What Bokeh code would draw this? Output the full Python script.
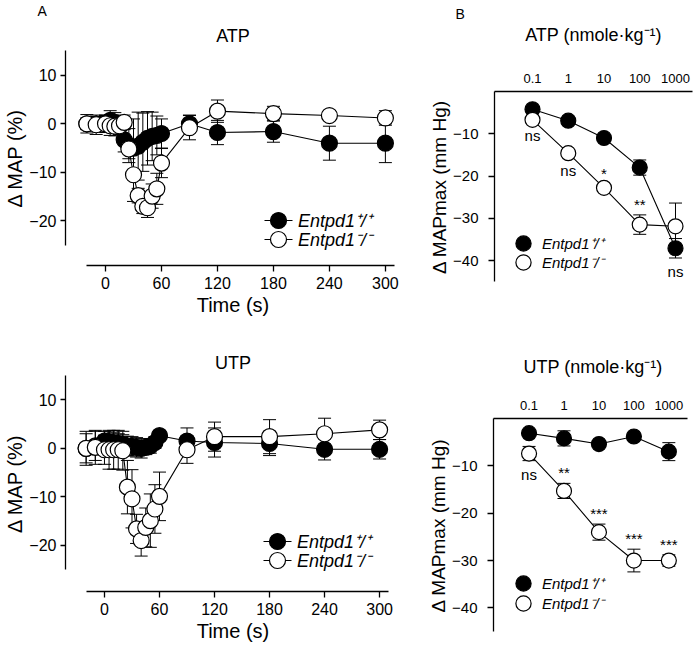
from bokeh.plotting import figure
from bokeh.models import (ColumnDataSource, Whisker, TeeHead, FixedTicker,
                          CustomJSTickFormatter, Title, Legend, LegendItem, Range1d)
from bokeh.layouts import column, row
from bokeh.core.properties import value
from bokeh.embed import file_html
from bokeh.resources import INLINE

FONT = "Liberation Sans"
NAN = float("nan")

# ---------------- data ----------------
time_s = [-20, -10, 0, 5, 10, 15, 20, 25, 30, 35, 40, 45, 50, 55, 60, 90, 120, 180, 240, 300]
time_ticks = [0, 60, 120, 180, 240, 300]

atp_wt = [0.0, 0.0, 0.2, 0.7, 0.3, -0.5, -3.3, -4.5, -5.0, -4.6, -3.8, -3.0, -2.6, -2.4, -2.0, 0.0, -1.8, -1.6, -4.0, -4.0]
atp_wt_sem = [1.2, 1.5, 1.5, 2.0, 2.0, 1.5, 2.5, 3.5, 6.0, 7.0, 6.0, 5.5, 5.0, 4.0, 3.0, 1.8, 2.5, 2.2, 3.5, 4.0]
atp_ko = [0.0, -0.2, 0.0, -0.4, -0.5, -0.4, 0.3, -5.2, -10.5, -14.8, -17.0, -17.3, -14.9, -13.4, -8.1, -0.8, 2.6, 2.1, 1.7, 1.2]
atp_ko_sem = [1.9, 2.0, 1.8, 2.0, 2.0, 1.8, 1.5, 2.0, 5.5, 1.5, 1.5, 2.0, 2.5, 3.2, 3.0, 2.5, 2.3, 1.5, 0.5, 1.5]

utp_wt = [0.0, 0.5, 1.5, 1.4, 1.2, 1.0, 0.8, 0.5, 0.4, 0.2, 0.0, 0.2, 0.5, 1.2, 2.6, 1.5, 1.2, 1.0, -0.2, -0.2]
utp_wt_sem = [3.5, 3.0, 2.0, 2.0, 2.0, 2.0, 2.0, 2.0, 2.0, 2.0, 2.0, 1.5, 1.5, 1.2, 1.0, 2.7, 3.0, 2.5, 2.2, 2.0]
utp_ko = [0.0, 0.2, -0.3, -0.3, -0.3, -0.3, -0.5, -8.0, -10.4, -16.6, -19.0, -16.3, -14.9, -12.5, -9.9, -0.3, 2.4, 2.4, 3.0, 3.8]
utp_ko_sem = [3.0, 3.5, 3.0, 4.0, 4.0, 4.0, 4.0, 5.5, 6.0, 3.0, 3.2, 4.0, 5.5, 5.0, 5.0, 2.8, 3.0, 3.5, 3.2, 2.0]

dose = [0.1, 1, 10, 100, 1000]
atp_dose_wt = [-4.2, -6.9, -11.0, -18.0, -37.1]
atp_dose_wt_sem = [0.6, 0.6, 0.6, 1.8, 2.3]
atp_dose_ko = [-6.7, -14.6, -22.8, -31.5, -31.9]
atp_dose_ko_sem = [0.6, 0.8, 0.8, 2.3, 5.5]
atp_sig = ["ns", "ns", "*", "**", "ns"]
atp_sig_side = ["below", "below", "above", "above", "below"]

utp_dose_wt = [-3.1, -4.2, -5.4, -3.8, -7.0]
utp_dose_wt_sem = [0.5, 1.6, 0.5, 0.5, 1.9]
utp_dose_ko = [-7.4, -15.3, -24.0, -30.0, -30.0]
utp_dose_ko_sem = [1.5, 1.6, 1.7, 2.4, 1.2]
utp_sig = ["ns", "**", "***", "***", "***"]
utp_sig_side = ["below", "above", "above", "above", "above"]

WT_LABEL = "Entpd1\u207a/\u207a"
KO_LABEL = "Entpd1\u207b/\u207b"

MINUS_FMT = CustomJSTickFormatter(code="return tick < 0 ? '\\u2212' + Math.abs(tick) : tick.toString();")


def base_style(p):
    p.xgrid.visible = False
    p.ygrid.visible = False
    p.outline_line_color = None
    p.background_fill_color = "white"
    p.border_fill_color = "white"
    for ax in (p.xaxis[0], p.yaxis[0]):
        ax.axis_line_color = "black"
        ax.axis_line_width = 1.3
        ax.major_tick_line_color = "black"
        ax.major_tick_line_width = 1.3
        ax.minor_tick_line_color = None
        ax.major_tick_in = 0
        ax.major_label_text_color = "black"
        ax.major_label_text_font = FONT
        ax.axis_label_text_font = FONT
        ax.axis_label_text_font_style = "normal"
        ax.axis_label_text_color = "black"


def add_series(p, src, x, key, fill, size):
    w = Whisker(base=x, lower=key + "_lo", upper=key + "_hi", source=src,
                line_color="black", line_width=1,
                upper_head=TeeHead(size=13, line_color="black", line_width=1),
                lower_head=TeeHead(size=13, line_color="black", line_width=1))
    p.add_layout(w)
    ln = p.line(x, key, source=src, line_color="black", line_width=1.1)
    sc = p.scatter(x, key, source=src, size=size, fill_color=fill,
                   line_color="black", line_width=1.2)
    return ln, sc


def make_src(xname, xs, wt, wt_sem, ko, ko_sem):
    return ColumnDataSource(dict(**{xname: xs},
        wt=wt, wt_lo=[v - e for v, e in zip(wt, wt_sem)], wt_hi=[v + e for v, e in zip(wt, wt_sem)],
        ko=ko, ko_lo=[v - e for v, e in zip(ko, ko_sem)], ko_hi=[v + e for v, e in zip(ko, ko_sem)]))


def add_legend_item(p, label, renderers, loc, gw, standoff, fsize):
    lg = Legend(items=[LegendItem(label=label, renderers=renderers)], location=loc,
                glyph_width=gw, glyph_height=gw, label_standoff=standoff, padding=0, margin=0,
                spacing=0, border_line_color=None, background_fill_alpha=0,
                label_text_font=FONT, label_text_font_style="italic",
                label_text_font_size=fsize, label_text_color="black")
    p.add_layout(lg)


def title(text, align, fsize, standoff, offset=0):
    return Title(text=text, align=align, offset=offset, text_font=FONT, text_font_size=fsize,
                 text_font_style="normal", text_color="black", standoff=standoff)


def time_panel(drug, letter, wt, wt_sem, ko, ko_sem, height, xr, yr, borders, leg, title_standoff):
    bl, br, bt, bb = borders
    p = figure(width=408, height=height, x_range=Range1d(*xr), y_range=Range1d(*yr),
               output_backend="svg", toolbar_location=None, title=None, frame_align=False,
               min_border_left=bl, min_border_right=br, min_border_top=bt, min_border_bottom=bb)
    base_style(p)
    xa, ya = p.xaxis[0], p.yaxis[0]
    xa.bounds = (-20, 310)
    xa.ticker = FixedTicker(ticks=time_ticks)
    xa.major_tick_out = 6
    xa.major_label_standoff = 5
    xa.major_label_text_font_size = "16px"
    xa.axis_label = "Time (s)"
    xa.axis_label_text_font_size = "20px"
    xa.axis_label_standoff = 2
    ya.bounds = (-25, 15)
    ya.ticker = FixedTicker(ticks=[-20, -10, 0, 10])
    ya.formatter = MINUS_FMT
    ya.major_tick_out = 5
    ya.major_label_standoff = 4
    ya.major_label_text_font_size = "16px"
    ya.axis_label = "\u0394 MAP (%)"
    ya.axis_label_text_font_size = "20px"
    ya.axis_label_standoff = 0

    src = make_src("t", time_s, wt, wt_sem, ko, ko_sem)
    lw, sw = add_series(p, src, "t", "wt", "black", 16)
    lk, sk = add_series(p, src, "t", "ko", "white", 16)
    # legend keys: short line stub behind the marker (no visible data)
    kw = p.line(x=[NAN, NAN], y=[NAN, NAN], line_color="black", line_width=1.1, line_dash="0 6 28 6")
    kk = p.line(x=[NAN, NAN], y=[NAN, NAN], line_color="black", line_width=1.1, line_dash="0 6 28 6")
    add_legend_item(p, WT_LABEL, [kw, sw], leg[0], 40, -4, "18px")
    add_legend_item(p, KO_LABEL, [kk, sk], leg[1], 40, -4, "18px")

    p.add_layout(title(drug, "center", "18px", title_standoff), "above")
    if letter:
        p.add_layout(title(letter, "left", "14px", 0, -28), "above")
    return p


def dose_panel(drug, letter, wt, wt_sem, ko, ko_sem, sig, sig_side, height, xr, xbounds, yr,
               borders, leg, xstand):
    bl, br, bt, bb = borders
    p = figure(width=285, height=height, x_range=Range1d(*xr), y_range=Range1d(*yr),
               x_axis_type="log", x_axis_location="above", frame_align=False,
               output_backend="svg", toolbar_location=None, title=None,
               min_border_left=bl, min_border_right=br, min_border_top=bt, min_border_bottom=bb)
    base_style(p)
    xa, ya = p.xaxis[0], p.yaxis[0]
    xa.bounds = xbounds
    xa.ticker = FixedTicker(ticks=dose)
    xa.formatter = CustomJSTickFormatter(code="return tick.toString();")
    xa.major_tick_out = 0
    xa.major_label_standoff = xstand[0]
    xa.major_label_text_font_size = "13px"
    xa.axis_label = drug + " (nmole\u00b7kg\u207b\u00b9)"
    xa.axis_label_text_font_size = "18px"
    xa.axis_label_standoff = xstand[1]
    ya.bounds = (-45, 0)
    ya.ticker = FixedTicker(ticks=[-40, -30, -20, -10])
    ya.formatter = MINUS_FMT
    ya.major_tick_out = 6
    ya.major_label_standoff = 10
    ya.major_label_text_font_size = "15px"
    ya.axis_label = "\u0394 MAPmax (mm Hg)"
    ya.axis_label_text_font_size = "19px"
    ya.axis_label_standoff = 0

    src = make_src("d", dose, wt, wt_sem, ko, ko_sem)
    lw, sw = add_series(p, src, "d", "wt", "black", 15)
    lk, sk = add_series(p, src, "d", "ko", "white", 15)
    add_legend_item(p, WT_LABEL, [sw], leg[0], 38, -5, "15px")
    add_legend_item(p, KO_LABEL, [sk], leg[1], 38, -5, "15px")

    below = [i for i, s in enumerate(sig_side) if s == "below"]
    above = [i for i, s in enumerate(sig_side) if s == "above"]
    bsrc = ColumnDataSource(dict(d=[dose[i] for i in below],
                                 y=[min(wt[i] - wt_sem[i], ko[i] - ko_sem[i]) for i in below],
                                 s=[sig[i] for i in below]))
    asrc = ColumnDataSource(dict(d=[dose[i] for i in above],
                                 y=[ko[i] + ko_sem[i] for i in above],
                                 s=[sig[i] for i in above]))
    p.text("d", "y", text="s", source=bsrc, text_font=value(FONT), text_font_size="15px",
           text_align="center", text_baseline="top", y_offset=5, text_color="black")
    p.text("d", "y", text="s", source=asrc, text_font=value(FONT), text_font_size="15px",
           text_align="center", text_baseline="bottom", y_offset=-2, text_color="black")

    if letter:
        p.add_layout(title(letter, "left", "14px", 0, -39), "above")
    return p


H1, H2 = 320, 327
p1 = time_panel("ATP", "A", atp_wt, atp_wt_sem, atp_ko, atp_ko_sem, H1,
                (-42.9, 316.2), (-29.2, 15.1), (65, 8, 48, 55), [(193, 25), (193, 6)], 10)
p2 = dose_panel("ATP", "B", atp_dose_wt, atp_dose_wt_sem, atp_dose_ko, atp_dose_ko_sem,
                atp_sig, atp_sig_side, H1,
                (10 ** -2.063, 10 ** 3.476), (10 ** -2.566, 10 ** 3.47), (-45.2, 0),
                (86, 1, 91, 38), [(10, 20), (10, 1)], (9, 26))
p3 = time_panel("UTP", "", utp_wt, utp_wt_sem, utp_ko, utp_ko_sem, H2,
                (-42.5, 322.8), (-29.5, 15.0), (65, 8, 55, 56), [(192, 30), (192, 11)], 6)
p4 = dose_panel("UTP", "", utp_dose_wt, utp_dose_wt_sem, utp_dose_ko, utp_dose_ko_sem,
                utp_sig, utp_sig_side, H2,
                (10 ** -2.017, 10 ** 3.677), (10 ** -2.55, 10 ** 3.526), (-45.2, 0),
                (85, 1, 98, 15), [(11, 30), (11, 10)], (9, 21))

layout = column(row(p1, p2), row(p3, p4))
open("out.html", "w").write(file_html(layout, INLINE))
